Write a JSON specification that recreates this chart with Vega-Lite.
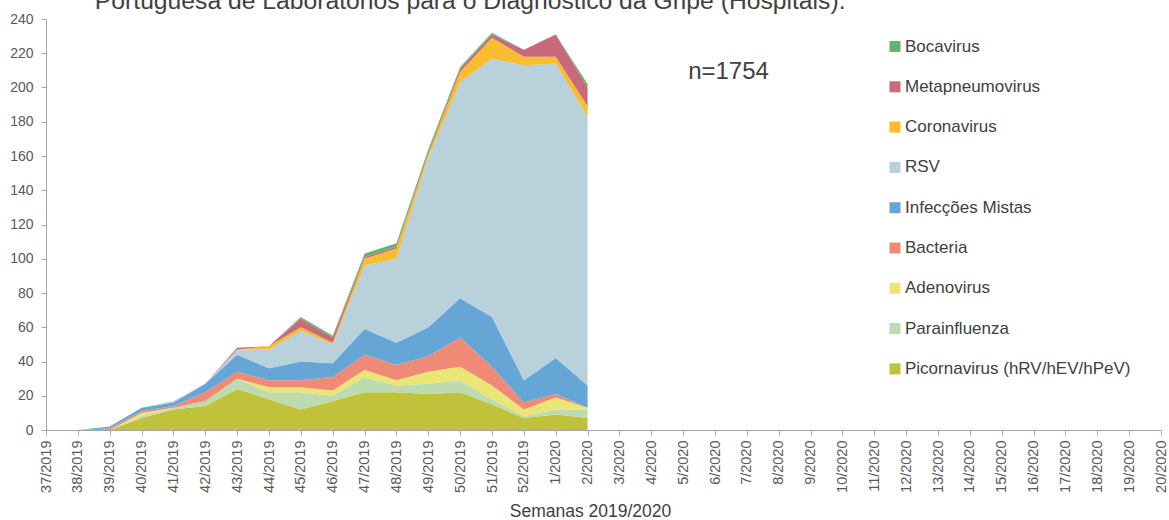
{
  "$schema": "https://vega.github.io/schema/vega-lite/v6.json",
  "width": 1115,
  "height": 411,
  "autosize": {"type": "none"},
  "padding": {"left": 46, "top": 19, "right": 8, "bottom": 90},
  "background": "white",
  "config": {
    "view": {"stroke": null},
    "font": "Liberation Sans",
    "axis": {"labelOverlap": false, "labelFlush": false}
  },
  "datasets": {
    "cases": [
      {"week":"37/2019","virus":"Picornavirus (hRV/hEV/hPeV)","n":0},{"week":"37/2019","virus":"Parainfluenza","n":0},{"week":"37/2019","virus":"Adenovirus","n":0},{"week":"37/2019","virus":"Bacteria","n":0},{"week":"37/2019","virus":"Infecções Mistas","n":0},{"week":"37/2019","virus":"RSV","n":0},{"week":"37/2019","virus":"Coronavirus","n":0},{"week":"37/2019","virus":"Metapneumovirus","n":0},{"week":"37/2019","virus":"Bocavirus","n":0},
      {"week":"38/2019","virus":"Picornavirus (hRV/hEV/hPeV)","n":0},{"week":"38/2019","virus":"Parainfluenza","n":0},{"week":"38/2019","virus":"Adenovirus","n":0},{"week":"38/2019","virus":"Bacteria","n":0},{"week":"38/2019","virus":"Infecções Mistas","n":0},{"week":"38/2019","virus":"RSV","n":0},{"week":"38/2019","virus":"Coronavirus","n":0},{"week":"38/2019","virus":"Metapneumovirus","n":0},{"week":"38/2019","virus":"Bocavirus","n":0},
      {"week":"39/2019","virus":"Picornavirus (hRV/hEV/hPeV)","n":0},{"week":"39/2019","virus":"Parainfluenza","n":0},{"week":"39/2019","virus":"Adenovirus","n":0},{"week":"39/2019","virus":"Bacteria","n":1},{"week":"39/2019","virus":"Infecções Mistas","n":1},{"week":"39/2019","virus":"RSV","n":0},{"week":"39/2019","virus":"Coronavirus","n":0},{"week":"39/2019","virus":"Metapneumovirus","n":0},{"week":"39/2019","virus":"Bocavirus","n":0},
      {"week":"40/2019","virus":"Picornavirus (hRV/hEV/hPeV)","n":7},{"week":"40/2019","virus":"Parainfluenza","n":1},{"week":"40/2019","virus":"Adenovirus","n":2},{"week":"40/2019","virus":"Bacteria","n":1},{"week":"40/2019","virus":"Infecções Mistas","n":2},{"week":"40/2019","virus":"RSV","n":0},{"week":"40/2019","virus":"Coronavirus","n":0},{"week":"40/2019","virus":"Metapneumovirus","n":0},{"week":"40/2019","virus":"Bocavirus","n":0},
      {"week":"41/2019","virus":"Picornavirus (hRV/hEV/hPeV)","n":12},{"week":"41/2019","virus":"Parainfluenza","n":1},{"week":"41/2019","virus":"Adenovirus","n":0},{"week":"41/2019","virus":"Bacteria","n":1},{"week":"41/2019","virus":"Infecções Mistas","n":2},{"week":"41/2019","virus":"RSV","n":1},{"week":"41/2019","virus":"Coronavirus","n":0},{"week":"41/2019","virus":"Metapneumovirus","n":0},{"week":"41/2019","virus":"Bocavirus","n":0},
      {"week":"42/2019","virus":"Picornavirus (hRV/hEV/hPeV)","n":14},{"week":"42/2019","virus":"Parainfluenza","n":3},{"week":"42/2019","virus":"Adenovirus","n":0},{"week":"42/2019","virus":"Bacteria","n":5},{"week":"42/2019","virus":"Infecções Mistas","n":5},{"week":"42/2019","virus":"RSV","n":0},{"week":"42/2019","virus":"Coronavirus","n":0},{"week":"42/2019","virus":"Metapneumovirus","n":0},{"week":"42/2019","virus":"Bocavirus","n":0},
      {"week":"43/2019","virus":"Picornavirus (hRV/hEV/hPeV)","n":24},{"week":"43/2019","virus":"Parainfluenza","n":6},{"week":"43/2019","virus":"Adenovirus","n":0},{"week":"43/2019","virus":"Bacteria","n":4},{"week":"43/2019","virus":"Infecções Mistas","n":10},{"week":"43/2019","virus":"RSV","n":3},{"week":"43/2019","virus":"Coronavirus","n":0},{"week":"43/2019","virus":"Metapneumovirus","n":1},{"week":"43/2019","virus":"Bocavirus","n":0},
      {"week":"44/2019","virus":"Picornavirus (hRV/hEV/hPeV)","n":18},{"week":"44/2019","virus":"Parainfluenza","n":4},{"week":"44/2019","virus":"Adenovirus","n":3},{"week":"44/2019","virus":"Bacteria","n":4},{"week":"44/2019","virus":"Infecções Mistas","n":7},{"week":"44/2019","virus":"RSV","n":11},{"week":"44/2019","virus":"Coronavirus","n":2},{"week":"44/2019","virus":"Metapneumovirus","n":0},{"week":"44/2019","virus":"Bocavirus","n":0},
      {"week":"45/2019","virus":"Picornavirus (hRV/hEV/hPeV)","n":12},{"week":"45/2019","virus":"Parainfluenza","n":10},{"week":"45/2019","virus":"Adenovirus","n":3},{"week":"45/2019","virus":"Bacteria","n":4},{"week":"45/2019","virus":"Infecções Mistas","n":11},{"week":"45/2019","virus":"RSV","n":18},{"week":"45/2019","virus":"Coronavirus","n":2},{"week":"45/2019","virus":"Metapneumovirus","n":5},{"week":"45/2019","virus":"Bocavirus","n":1},
      {"week":"46/2019","virus":"Picornavirus (hRV/hEV/hPeV)","n":17},{"week":"46/2019","virus":"Parainfluenza","n":3},{"week":"46/2019","virus":"Adenovirus","n":3},{"week":"46/2019","virus":"Bacteria","n":8},{"week":"46/2019","virus":"Infecções Mistas","n":8},{"week":"46/2019","virus":"RSV","n":11},{"week":"46/2019","virus":"Coronavirus","n":1},{"week":"46/2019","virus":"Metapneumovirus","n":3},{"week":"46/2019","virus":"Bocavirus","n":1},
      {"week":"47/2019","virus":"Picornavirus (hRV/hEV/hPeV)","n":22},{"week":"47/2019","virus":"Parainfluenza","n":9},{"week":"47/2019","virus":"Adenovirus","n":4},{"week":"47/2019","virus":"Bacteria","n":9},{"week":"47/2019","virus":"Infecções Mistas","n":15},{"week":"47/2019","virus":"RSV","n":37},{"week":"47/2019","virus":"Coronavirus","n":4},{"week":"47/2019","virus":"Metapneumovirus","n":1},{"week":"47/2019","virus":"Bocavirus","n":2},
      {"week":"48/2019","virus":"Picornavirus (hRV/hEV/hPeV)","n":22},{"week":"48/2019","virus":"Parainfluenza","n":4},{"week":"48/2019","virus":"Adenovirus","n":3},{"week":"48/2019","virus":"Bacteria","n":9},{"week":"48/2019","virus":"Infecções Mistas","n":13},{"week":"48/2019","virus":"RSV","n":49},{"week":"48/2019","virus":"Coronavirus","n":6},{"week":"48/2019","virus":"Metapneumovirus","n":1},{"week":"48/2019","virus":"Bocavirus","n":2},
      {"week":"49/2019","virus":"Picornavirus (hRV/hEV/hPeV)","n":21},{"week":"49/2019","virus":"Parainfluenza","n":6},{"week":"49/2019","virus":"Adenovirus","n":7},{"week":"49/2019","virus":"Bacteria","n":9},{"week":"49/2019","virus":"Infecções Mistas","n":17},{"week":"49/2019","virus":"RSV","n":99},{"week":"49/2019","virus":"Coronavirus","n":2},{"week":"49/2019","virus":"Metapneumovirus","n":1},{"week":"49/2019","virus":"Bocavirus","n":2},
      {"week":"50/2019","virus":"Picornavirus (hRV/hEV/hPeV)","n":22},{"week":"50/2019","virus":"Parainfluenza","n":7},{"week":"50/2019","virus":"Adenovirus","n":8},{"week":"50/2019","virus":"Bacteria","n":17},{"week":"50/2019","virus":"Infecções Mistas","n":23},{"week":"50/2019","virus":"RSV","n":126},{"week":"50/2019","virus":"Coronavirus","n":6},{"week":"50/2019","virus":"Metapneumovirus","n":2},{"week":"50/2019","virus":"Bocavirus","n":1},
      {"week":"51/2019","virus":"Picornavirus (hRV/hEV/hPeV)","n":15},{"week":"51/2019","virus":"Parainfluenza","n":3},{"week":"51/2019","virus":"Adenovirus","n":8},{"week":"51/2019","virus":"Bacteria","n":11},{"week":"51/2019","virus":"Infecções Mistas","n":29},{"week":"51/2019","virus":"RSV","n":151},{"week":"51/2019","virus":"Coronavirus","n":12},{"week":"51/2019","virus":"Metapneumovirus","n":2},{"week":"51/2019","virus":"Bocavirus","n":1},
      {"week":"52/2019","virus":"Picornavirus (hRV/hEV/hPeV)","n":7},{"week":"52/2019","virus":"Parainfluenza","n":1},{"week":"52/2019","virus":"Adenovirus","n":4},{"week":"52/2019","virus":"Bacteria","n":4},{"week":"52/2019","virus":"Infecções Mistas","n":13},{"week":"52/2019","virus":"RSV","n":184},{"week":"52/2019","virus":"Coronavirus","n":5},{"week":"52/2019","virus":"Metapneumovirus","n":4},{"week":"52/2019","virus":"Bocavirus","n":0},
      {"week":"1/2020","virus":"Picornavirus (hRV/hEV/hPeV)","n":9},{"week":"1/2020","virus":"Parainfluenza","n":3},{"week":"1/2020","virus":"Adenovirus","n":7},{"week":"1/2020","virus":"Bacteria","n":2},{"week":"1/2020","virus":"Infecções Mistas","n":21},{"week":"1/2020","virus":"RSV","n":172},{"week":"1/2020","virus":"Coronavirus","n":4},{"week":"1/2020","virus":"Metapneumovirus","n":13},{"week":"1/2020","virus":"Bocavirus","n":0},
      {"week":"2/2020","virus":"Picornavirus (hRV/hEV/hPeV)","n":7},{"week":"2/2020","virus":"Parainfluenza","n":5},{"week":"2/2020","virus":"Adenovirus","n":1},{"week":"2/2020","virus":"Bacteria","n":0},{"week":"2/2020","virus":"Infecções Mistas","n":13},{"week":"2/2020","virus":"RSV","n":157},{"week":"2/2020","virus":"Coronavirus","n":6},{"week":"2/2020","virus":"Metapneumovirus","n":11},{"week":"2/2020","virus":"Bocavirus","n":2}
    ],
    "notes": [{"label": "n=1754", "week": "5/2020", "n": 205}],
    "heading": [{"label": "Portuguesa de Laboratórios para o Diagnóstico da Gripe (Hospitais).", "week": "38/2019", "n": 245.7}]
  },
  "encoding": {
    "x": {
      "field": "week", "type": "ordinal",
      "scale": {"type": "point", "padding": 0, "domain": ["37/2019","38/2019","39/2019","40/2019","41/2019","42/2019","43/2019","44/2019","45/2019","46/2019","47/2019","48/2019","49/2019","50/2019","51/2019","52/2019","1/2020","2/2020","3/2020","4/2020","5/2020","6/2020","7/2020","8/2020","9/2020","10/2020","11/2020","12/2020","13/2020","14/2020","15/2020","16/2020","17/2020","18/2020","19/2020","20/2020"]},
      "axis": {
        "title": "Semanas 2019/2020",
        "titleFont": "Liberation Sans", "titleFontSize": 17.5, "titleFontWeight": "normal", "titleColor": "#404040", "titlePadding": 10,
        "titleX": 544, "titleAlign": "center", "titleAnchor": null,
        "labelAngle": -90, "labelFontSize": 14.5, "labelColor": "#595959", "labelPadding": 5,
        "labelOverlap": false,
        "tickSize": 5, "tickColor": "#a6a6a6", "domainColor": "#a6a6a6", "grid": false
      }
    },
    "y": {
      "field": "n", "type": "quantitative",
      "scale": {"domain": [0, 240], "nice": false},
      "axis": {
        "title": null, "values": [0,20,40,60,80,100,120,140,160,180,200,220,240],
        "labelOverlap": false, "labelFlush": false,
        "labelFontSize": 14, "labelColor": "#595959", "labelPadding": 8,
        "tickSize": 5, "tickColor": "#a6a6a6", "domainColor": "#a6a6a6", "grid": false
      }
    }
  },
  "layer": [
    {
      "data": {"name": "cases"},
      "transform": [
        {"calculate": "indexof(['Picornavirus (hRV/hEV/hPeV)','Parainfluenza','Adenovirus','Bacteria','Infecções Mistas','RSV','Coronavirus','Metapneumovirus','Bocavirus'], datum.virus)", "as": "stackOrder"}
      ],
      "mark": {"type": "area", "interpolate": "linear"},
      "encoding": {
        "y": {
          "field": "n", "type": "quantitative", "stack": "zero",
          "scale": {"domain": [0, 240], "nice": false},
          "axis": {
            "title": null, "values": [0,20,40,60,80,100,120,140,160,180,200,220,240],
            "labelOverlap": false, "labelFlush": false,
            "labelFontSize": 14, "labelColor": "#595959", "labelPadding": 8,
            "tickSize": 5, "tickColor": "#a6a6a6", "domainColor": "#a6a6a6", "grid": false
          }
        },
        "order": {"field": "stackOrder", "type": "quantitative", "sort": "ascending"},
        "color": {
          "field": "virus", "type": "nominal",
          "scale": {
            "domain": ["Bocavirus","Metapneumovirus","Coronavirus","RSV","Infecções Mistas","Bacteria","Adenovirus","Parainfluenza","Picornavirus (hRV/hEV/hPeV)"],
            "range": ["#64b46e","#c96a7a","#f8bd2f","#b8d1db","#65a6d6","#ee8a75","#ebe575","#bcdcb0","#c0c23c"]
          },
          "legend": {
            "title": null, "orient": "none", "legendX": 840.5, "legendY": 19,
            "symbolType": "square", "symbolSize": 121, "symbolStrokeWidth": 0,
            "labelFontSize": 17, "labelColor": "#404040", "labelLimit": 400, "labelOffset": 1.5,
            "labelExpr": "datum.label == 'Parainfluenza' ? '\u00a0Parainfluenza' : datum.label",
            "rowPadding": 22.3
          }
        }
      }
    },
    {
      "data": {"name": "notes"},
      "mark": {"type": "text", "align": "left", "baseline": "alphabetic", "dx": 5, "fontSize": 24, "color": "#404040"},
      "encoding": {
        "text": {"field": "label"}
      }
    },
    {
      "data": {"name": "heading"},
      "mark": {"type": "text", "align": "left", "baseline": "alphabetic", "dx": 17, "fontSize": 24.7, "color": "#404040"},
      "encoding": {
        "text": {"field": "label"}
      }
    }
  ]
}
